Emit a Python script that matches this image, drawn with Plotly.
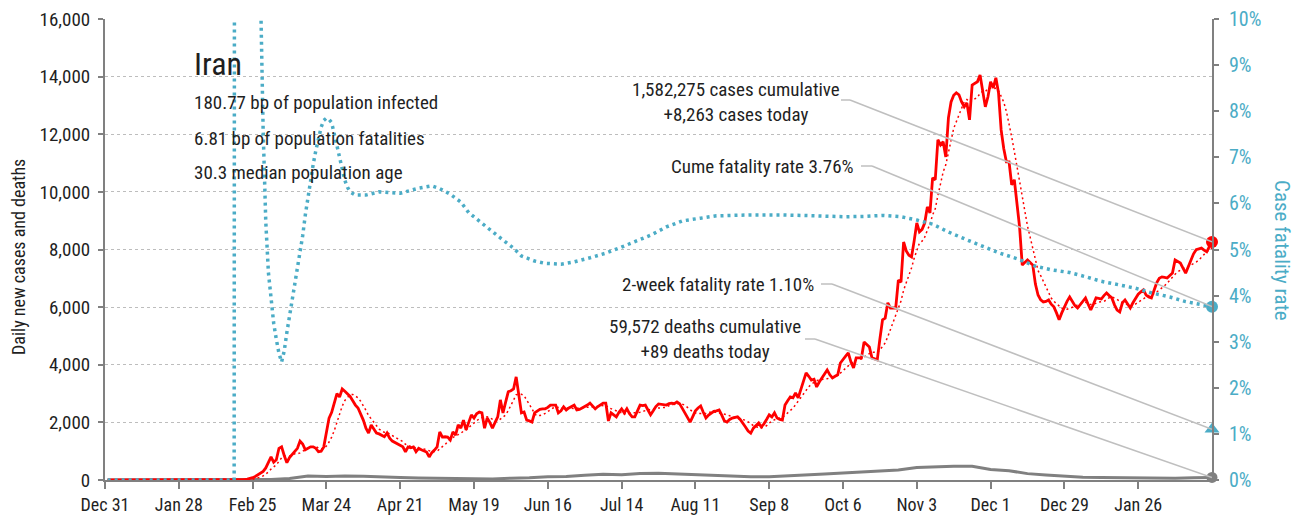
import pandas as pd
import plotly.graph_objects as go

# ---- data -------------------------------------------------------------
END_DATE = "2021-02-23"
START_DATE = "2020-01-01"

# daily new cases, Jan 1 2020 .. Feb 23 2021
new_cases = [
    0, 0, 0, 0, 0, 0, 0, 0, 0, 0, 0, 0, 0, 0, 0, 0, 0, 0, 0, 0, 0, 0, 0, 0, 0,
    0, 0, 0, 0, 0, 0, 0, 0, 0, 0, 0, 0, 0, 0, 0, 0, 0, 0, 0, 0, 0, 0, 0, 0, 0,
    5, 10, 20, 30, 50, 80, 120, 180, 240, 300,
    420, 600, 800, 620, 700, 1100, 1150, 850, 600, 780,
    900, 1000, 1100, 1350, 1250, 1050, 1100, 1150, 1150, 1100,
    980, 1000, 1150, 1700, 2150, 2350, 2700, 3000, 2880, 3160,
    3080, 3000, 2900, 2750, 2600, 2500, 2300, 2080, 1800, 1630,
    1910, 1750, 1630, 1600, 1560, 1500, 1630, 1450, 1350, 1300,
    1250, 1200, 1150, 980, 1150, 1120, 1150, 980, 1100, 1050,
    1000, 970, 800, 950, 1040, 1150, 1670, 1490, 1500, 1490,
    1390, 1670, 1560, 1910, 1800, 2080, 1740, 2000, 2260, 2150,
    2300, 2360, 2330, 1800, 2150, 2000, 1800, 2000, 2190, 2780,
    2330, 2700, 3060, 3100, 3160, 3580, 2900, 2330, 2360, 2080,
    2050, 2010, 2330, 2400, 2450, 2470, 2470, 2520, 2600, 2600,
    2600, 2330, 2400, 2540, 2430, 2500, 2550, 2600, 2430, 2450,
    2500, 2540, 2600, 2670, 2550, 2470, 2550, 2620, 2670, 2670,
    2050, 2330, 2250, 2190, 2350, 2470, 2330, 2470, 2300, 2190,
    2190, 2400, 2600, 2580, 2600, 2430, 2260, 2400, 2550, 2640,
    2620, 2600, 2600, 2650, 2670, 2650, 2710, 2650, 2500, 2350,
    2150, 2010, 2200, 2400, 2500, 2570, 2350, 2150, 2250, 2330,
    2380, 2400, 2430, 2250, 2050, 2010, 2100, 2150, 2180, 2190,
    2100, 1950, 1840, 1700, 1630, 1800, 1900, 1980, 1840, 1950,
    2100, 2260, 2190, 2330, 2150, 2100, 2080, 2600, 2750, 2880,
    2850, 3020, 2850, 3150, 3450, 3720, 3600, 3470, 3500, 3230,
    3400, 3540, 3650, 3820, 3650, 3540, 3600, 3650, 4060, 4200,
    4300, 4410, 4100, 3890, 4240, 4240, 4240, 4790, 4700, 4620,
    4240, 4200, 4170, 4900, 5560, 5620, 6150, 5970, 5970, 5970,
    6940, 6870, 8260, 7950, 7800, 7740, 8300, 8920, 8610, 8700,
    8920, 9480, 9270, 10490, 10420, 11810, 11630, 11740, 11210, 12570,
    13120, 13350, 13440, 13370, 13120, 12950, 13090, 12500, 13710, 13780,
    13820, 14060, 13500, 12950, 13300, 13820, 13610, 13960, 13440, 12150,
    11500, 11040, 11040, 10240, 10420, 9600, 8780, 7460, 7550, 7640,
    7550, 7460, 6800, 6420, 6250, 6180, 6200, 6250, 6100, 6010,
    5800, 5560, 5800, 6010, 6200, 6350, 6200, 6050, 5970, 6080,
    6200, 6320, 6100, 5900, 6100, 6320, 6300, 6280, 6400, 6490,
    6400, 6320, 6080, 5900, 5830, 6150, 6250, 6100, 5970, 6150,
    6320, 6450, 6530, 6600, 6420, 6350, 6320, 6600, 6840, 7000,
    7050, 7030, 7010, 7100, 7180, 7640, 7580, 7530, 7350, 7180,
    7400, 7640, 7850, 7990, 8030, 8050, 7980, 7920, 8100, 8263,
]

# daily new deaths (day offset from Jan 1 2020, value)
death_days = [0, 48, 55, 62, 69, 76, 83, 90, 97, 104, 111, 118, 125, 132, 139,
              146, 153, 160, 167, 174, 181, 188, 195, 202, 209, 216, 223, 230,
              237, 244, 251, 258, 265, 272, 279, 286, 293, 300, 307, 314, 321,
              328, 335, 342, 349, 356, 363, 370, 377, 384, 391, 398, 405, 412,
              419]
new_deaths = [0, 0, 4, 15, 54, 135, 122, 141, 133, 98, 88, 71, 63, 48, 51,
              34, 64, 74, 115, 119, 162, 200, 179, 229, 235, 212, 189, 161,
              119, 113, 114, 152, 175, 206, 239, 272, 322, 346, 434, 456, 480,
              475, 362, 323, 221, 175, 134, 94, 88, 79, 70, 75, 63, 79,
              89]

# cumulative case fatality rate, % (day offset from Jan 1 2020, value)
cfr_days = [0, 48, 49, 50, 51, 52, 53, 54, 55, 56, 57, 58, 59, 60, 61, 62,
            63, 64, 65, 66, 67, 68, 69, 70, 71, 72, 73, 74, 75, 76, 77, 78, 79,
            80, 81, 82, 83, 84, 85, 86, 87, 88, 89, 90, 91, 92, 94, 98, 103,
            111, 118, 123, 126, 130, 134, 137, 142, 146, 149, 154, 157, 162,
            166, 172, 177, 183, 189, 194, 199, 206, 212, 218, 225, 231, 244,
            256, 269, 280, 288, 294, 301, 307, 313, 319, 326, 332, 338, 345,
            352, 358, 365, 371, 377, 384, 390, 396, 403, 409, 419]
cfr_pct = [0, 0, 100, 30, 18, 19, 20, 17, 14, 12.5, 11.5, 10.6, 7.6, 5.6,
           4.5, 3.9, 3.4, 3.05, 2.75, 2.56, 2.8, 3.2, 3.55, 3.9, 4.2, 4.5,
           4.85, 5.3, 5.75, 6.15, 6.5, 6.85, 7.15, 7.45, 7.65, 7.8, 7.85,
           7.82, 7.75, 7.5, 7.25, 7.0, 6.72, 6.5, 6.35, 6.25, 6.18, 6.18,
           6.25, 6.22, 6.33, 6.38, 6.32, 6.2, 6.03, 5.8, 5.57, 5.38, 5.25,
           5.03, 4.86, 4.75, 4.7, 4.68, 4.73, 4.82, 4.92, 5.03, 5.14, 5.31,
           5.49, 5.62, 5.68, 5.73, 5.75, 5.75, 5.73, 5.71, 5.72, 5.74, 5.71,
           5.64, 5.55, 5.38, 5.21, 5.06, 4.93, 4.8, 4.64, 4.56, 4.5, 4.41,
           4.31, 4.23, 4.16, 4.06, 3.97, 3.87, 3.76]

two_week_cfr = 1.10
cases_cumulative = 1582275
deaths_cumulative = 59572
cases_today = new_cases[-1]
deaths_today = new_deaths[-1]
cume_cfr = cfr_pct[-1]

x_ticks = pd.date_range("2019-12-31", periods=15, freq="28D")
x_ticktext = [d.strftime("%b %-d") for d in x_ticks]

# ---- styling ----------------------------------------------------------
FONT = "Liberation Sans Narrow, Roboto Condensed, DejaVu Sans Condensed, sans-serif"
RED = "#ff0000"
BLUE = "#4bacc6"
GREY = "#808080"
LEADER = "#bfbfbf"
TEXT = "#1f1f1f"

W, H = 1297, 522
ML, MR, MT, MB = 105, 85, 19, 42
PW, PH = W - ML - MR, H - MT - MB
X0 = pd.Timestamp("2019-12-31")
X1 = pd.Timestamp(END_DATE)
DAYS = (X1 - X0).days
Y_MAX = 16000
Y2_MAX = 10


def px_x(px):
    return (px - ML) / PW


def px_y(py):
    return (MT + PH - py) / PH


def px_date(px):
    return X0 + pd.Timedelta(days=(px - ML) / PW * DAYS)


def px_val(py, top):
    return (MT + PH - py) / PH * top


# ---- series -----------------------------------------------------------
case_dates = pd.date_range(end=END_DATE, periods=len(new_cases), freq="D")
cases_avg = pd.Series(new_cases).rolling(7, min_periods=1).mean()
start = pd.Timestamp(START_DATE)
death_dates = [start + pd.Timedelta(days=d) for d in death_days]
cfr_dates = [start + pd.Timedelta(days=d) for d in cfr_days]

fig = go.Figure()

fig.add_trace(go.Scatter(
    x=cfr_dates, y=cfr_pct, yaxis="y2", mode="lines",
    line=dict(color=BLUE, width=3.5, dash="3px,4px"), hoverinfo="skip"))
fig.add_trace(go.Scatter(
    x=death_dates, y=new_deaths, mode="lines",
    line=dict(color=GREY, width=3), hoverinfo="skip"))
fig.add_trace(go.Scatter(
    x=case_dates, y=cases_avg, mode="lines",
    line=dict(color=RED, width=1.5, dash="2px,3px"), hoverinfo="skip"))
fig.add_trace(go.Scatter(
    x=case_dates, y=new_cases, mode="lines",
    line=dict(color=RED, width=2.8), hoverinfo="skip"))

# end-of-series markers
last = case_dates[-1]
fig.add_trace(go.Scatter(x=[last], y=[cases_today], mode="markers",
                         marker=dict(color=RED, size=12), cliponaxis=False))
fig.add_trace(go.Scatter(x=[last], y=[deaths_today], mode="markers",
                         marker=dict(color=GREY, size=11), cliponaxis=False))
fig.add_trace(go.Scatter(x=[last], y=[cume_cfr], yaxis="y2", mode="markers",
                         marker=dict(color=BLUE, size=12), cliponaxis=False))
fig.add_trace(go.Scatter(x=[last], y=[two_week_cfr], yaxis="y2", mode="markers",
                         marker=dict(color=BLUE, size=13, symbol="triangle-up"),
                         cliponaxis=False))

# leader lines: short horizontal run then a diagonal to the marker
leaders = [
    (841, 850, 100, cases_today, "y", Y_MAX),
    (861, 872, 166, cume_cfr, "y2", Y2_MAX),
    (821, 832, 284, two_week_cfr, "y2", Y2_MAX),
    (805, 815, 339, deaths_today, "y", Y_MAX),
]
shapes = []
for xa, xb, py, target, yref, top in leaders:
    yv = px_val(py, top)
    shapes.append(dict(type="line", xref="x", yref=yref,
                       x0=px_date(xa), x1=px_date(xb), y0=yv, y1=yv,
                       line=dict(color=LEADER, width=1.5)))
    shapes.append(dict(type="line", xref="x", yref=yref,
                       x0=px_date(xb), x1=last, y0=yv, y1=target,
                       line=dict(color=LEADER, width=1.5)))

# ---- text -------------------------------------------------------------
def note(text, px, py, size=19, xanchor="left", align="left", color=TEXT,
         angle=0):
    return dict(text=text, x=px_x(px), y=px_y(py), xref="paper", yref="paper",
                xanchor=xanchor, yanchor="middle", align=align,
                showarrow=False, textangle=angle,
                font=dict(family=FONT, size=size, color=color))


annotations = [
    note("Iran", 192, 64, size=32),
    note("180.77 bp of population infected", 192, 103),
    note("6.81 bp of population fatalities", 192, 138),
    note("30.3 median population age", 192, 172),
    note(f"{cases_cumulative:,} cases cumulative<br>+{cases_today:,} cases today",
         736, 102, xanchor="center", align="center"),
    note(f"Cume fatality rate {cume_cfr:.2f}%", 856, 166, xanchor="right"),
    note(f"2-week fatality rate {two_week_cfr:.2f}%", 816, 284, xanchor="right"),
    note(f"{deaths_cumulative:,} deaths cumulative<br>+{deaths_today} deaths today",
         705, 339, xanchor="center", align="center"),
    note("Daily new cases and deaths", 18, 257, size=18, xanchor="center",
         align="center", angle=-90),
    note("Case fatality rate", 1282, 250, size=21, xanchor="center",
         align="center", color=BLUE, angle=90),
]

fig.update_layout(
    width=W, height=H,
    margin=dict(l=ML, r=MR, t=MT, b=MB, autoexpand=False),
    paper_bgcolor="white", plot_bgcolor="white",
    showlegend=False,
    font=dict(family=FONT, size=18, color=TEXT),
    xaxis=dict(
        range=[X0, X1], tickvals=x_ticks, ticktext=x_ticktext,
        showgrid=False, zeroline=False, automargin=False,
        showline=True, linecolor=GREY, linewidth=2,
        ticks="outside", ticklen=7, tickwidth=1.5, tickcolor=GREY,
        tickfont=dict(family=FONT, size=18, color=TEXT),
    ),
    yaxis=dict(
        range=[0, Y_MAX], dtick=2000, tickformat=",d", automargin=False,
        showgrid=True, gridcolor="#bdbdbd", gridwidth=1, griddash="dot",
        zeroline=False, showline=True, linecolor=GREY, linewidth=2,
        ticks="outside", ticklen=5, tickwidth=1.5, tickcolor=GREY,
        ticklabelstandoff=4,
        tickfont=dict(family=FONT, size=19, color=TEXT),
    ),
    yaxis2=dict(
        range=[0, Y2_MAX], dtick=1, ticksuffix="%", overlaying="y",
        side="right", showgrid=False, zeroline=False, automargin=False,
        showline=True, linecolor=GREY, linewidth=2,
        ticks="outside", ticklen=5, tickwidth=1.5, tickcolor=GREY,
        ticklabelstandoff=6,
        tickfont=dict(family=FONT, size=20, color=BLUE),
    ),
    shapes=shapes,
    annotations=annotations,
)

fig.write_html("out.html")
